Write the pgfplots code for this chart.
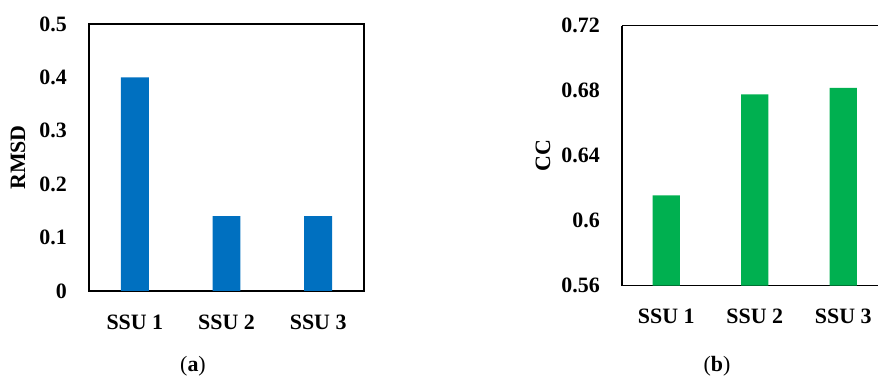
\documentclass[border=0pt]{standalone}
\usepackage{fontspec}
\setmainfont{Liberation Serif}
\usepackage{pgfplots}
\pgfplotsset{compat=1.18}
\definecolor{barblue}{HTML}{0070C0}
\definecolor{bargreen}{HTML}{00B050}
\begin{document}
\begin{tikzpicture}
\pgfplotsset{
  mystyle/.style={
    scale only axis, anchor=south west,
    ybar, xmin=-0.5,
    xtick={0,1,2}, xticklabels={SSU 1,SSU 2,SSU 3},
    major tick length=0pt,
    axis line style={line width=1.6bp},
    ticklabel style={font=\bfseries\fontsize{22}{26}\selectfont},
    /pgf/number format/assume math mode=true,
    yticklabel style={anchor=east, inner sep=0pt, xshift=-22bp},
    xticklabel style={anchor=center, inner sep=0pt, yshift=-31bp},
    ylabel style={font=\bfseries\fontsize{22}{26}\selectfont, anchor=center},
  }
}
\begin{axis}[mystyle,
  at={(89bp,87bp)}, width=275bp, height=267bp,
  xmax=2.5, bar width=0.305,
  ymin=0, ymax=0.5,
  ytick={0,0.1,0.2,0.3,0.4,0.5},
  yticklabels={0,0.1,0.2,0.3,0.4,0.5},
  ylabel={RMSD},
  ylabel style={at={(axis description cs:-0.258,0.5)}},
]
\addplot[fill=barblue, draw=none] coordinates {(0,0.40) (1,0.14) (2,0.14)};
\end{axis}
\begin{axis}[mystyle,
  at={(622bp,92.3bp)}, width=256bp, height=260bp,
  xmax=2.393, bar width=0.31,
  axis y line*=left,
  ymin=0.56, ymax=0.72,
  ytick={0.56,0.6,0.64,0.68,0.72},
  yticklabels={0.56,0.6,0.64,0.68,0.72},
  ylabel={CC},
  ylabel style={at={(axis description cs:-0.309,0.5)}},
]
\addplot[fill=bargreen, draw=none] coordinates {(0,0.6156) (1,0.6778) (2,0.6818)};
\end{axis}
\node[inner sep=0pt, font=\fontsize{22}{26}\selectfont] at (193bp,12bp) {(\textbf{a})};
\node[inner sep=0pt, font=\fontsize{22}{26}\selectfont] at (717bp,12bp) {(\textbf{b})};
\pgfresetboundingbox
\path[use as bounding box] (0bp,0bp) rectangle (878bp,378bp);
\end{tikzpicture}
\end{document}
